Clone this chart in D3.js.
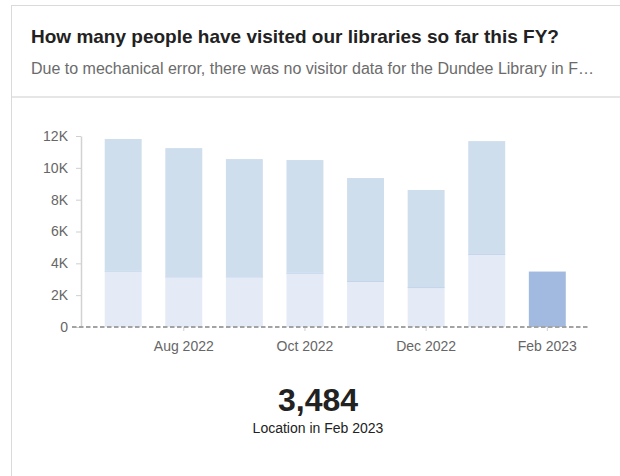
<!DOCTYPE html>
<html>
<head>
<meta charset="utf-8">
<script src="https://cdn.jsdelivr.net/npm/d3@7"></script>
<style>
  html, body { margin: 0; padding: 0; background: #fff; overflow: hidden; }
  svg { display: block; font-family: "Liberation Sans", Arial, Helvetica, sans-serif; }
</style>
</head>
<body>
<svg id="chart" width="620" height="476"></svg>
<script>
// Monthly visitor counts for the financial year so far
const months = ["Jul 2022", "Aug 2022", "Sep 2022", "Oct 2022", "Nov 2022", "Dec 2022", "Jan 2023", "Feb 2023"];
const locationVisits = [3540, 3180, 3180, 3410, 2890, 2510, 4590, 3484];
const dundeeVisits = [8270, 8060, 7370, 7080, 6470, 6100, 7090, null];
const yTicks = [0, 2000, 4000, 6000, 8000, 10000, 12000];
const xTickLabels = ["Aug 2022", "Oct 2022", "Dec 2022", "Feb 2023"];
const selectedMonth = "Feb 2023";

const titleText = "How many people have visited our libraries so far this FY?";
const subtitleText = "Due to mechanical error, there was no visitor data for the Dundee Library in February 2023.";

const svg = d3.select("#chart");

// card frame
svg.append("rect")
  .attr("x", 11.5).attr("y", 5.5)
  .attr("width", 700).attr("height", 600)
  .attr("fill", "#fff").attr("stroke", "#dadada");
svg.append("line")
  .attr("x1", 12).attr("x2", 620).attr("y1", 97).attr("y2", 97)
  .attr("stroke", "#e6e6e6").attr("stroke-width", 2);

// header
svg.append("text")
  .attr("x", 31).attr("y", 42.5)
  .attr("font-size", 19).attr("font-weight", "bold").attr("fill", "#222")
  .text(titleText);

const sub = svg.append("text")
  .attr("x", 31).attr("y", 73.5)
  .attr("font-size", 16).attr("fill", "#6b6b6b")
  .text(subtitleText);
// truncate long subtitle with an ellipsis
(function fit(node, maxW) {
  let s = subtitleText;
  if (node.getComputedTextLength() <= maxW) return;
  while (s.length > 0) {
    s = s.slice(0, -1);
    node.textContent = s.trimEnd() + "\u2026";
    if (node.getComputedTextLength() <= maxW) break;
  }
})(sub.node(), 570);

// scales
const x = d3.scaleBand()
  .domain(months)
  .range([92.9, 577.6])
  .paddingInner(0.39)
  .paddingOuter(0.195);

const y = d3.scaleLinear()
  .domain([0, 12000])
  .range([327, 136]);

const rows = months.map((m, i) => ({
  month: m,
  location: locationVisits[i],
  dundee: dundeeVisits[i] == null ? 0 : dundeeVisits[i]
}));
const stacked = d3.stack().keys(["location", "dundee"])(rows);

const fills = { location: "#e4ebf7", dundee: "#cfdeed" };
const highlight = "#a2badf";

// bars
const g = svg.append("g");
stacked.forEach(layer => {
  g.selectAll(null)
    .data(layer.filter(d => d[1] > d[0]))
    .join("rect")
    .attr("x", d => x(d.data.month))
    .attr("width", x.bandwidth())
    .attr("y", d => y(d[1]))
    .attr("height", d => y(d[0]) - y(d[1]))
    .attr("fill", d => d.data.month === selectedMonth ? highlight : fills[layer.key]);
});
// seam between the two stacked segments
g.selectAll(null)
  .data(rows.filter(d => d.dundee > 0))
  .join("line")
  .attr("x1", d => x(d.month))
  .attr("x2", d => x(d.month) + x.bandwidth())
  .attr("y1", d => y(d.location) + 0.5)
  .attr("y2", d => y(d.location) + 0.5)
  .attr("stroke", "#c3d4ec").attr("stroke-width", 1);

// y axis
const yAxis = svg.append("g")
  .attr("transform", "translate(81,0)")
  .call(d3.axisLeft(y)
    .tickValues(yTicks)
    .tickSize(5)
    .tickSizeOuter(0)
    .tickPadding(8)
    .tickFormat(d => d === 0 ? "0" : (d / 1000) + "K"));
yAxis.select(".domain").attr("stroke", "#d2d2d2").attr("stroke-width", 1.5);
yAxis.selectAll(".tick line").attr("stroke", "#cfcfcf");
yAxis.selectAll(".tick text")
  .attr("font-size", 14).attr("fill", "#666")
  .attr("font-family", "\"Liberation Sans\", Arial, sans-serif");

// x axis
const xAxis = svg.append("g")
  .attr("transform", "translate(0,327)")
  .call(d3.axisBottom(x)
    .tickValues(xTickLabels)
    .tickSize(4)
    .tickSizeOuter(0)
    .tickPadding(10));
xAxis.select(".domain").remove();
xAxis.selectAll(".tick line").attr("stroke", "#cfcfcf");
xAxis.selectAll(".tick text")
  .attr("font-size", 14).attr("fill", "#666")
  .attr("font-family", "\"Liberation Sans\", Arial, sans-serif");

// dashed baseline
svg.append("line")
  .attr("x1", 72).attr("x2", x.range()[1] + 12)
  .attr("y1", y(0)).attr("y2", y(0))
  .attr("stroke", "#a3a3a3").attr("stroke-width", 2)
  .attr("stroke-dasharray", "4.5,2.5");

// summary figure for the selected month
const selIdx = months.indexOf(selectedMonth);
svg.append("text")
  .attr("x", 318).attr("y", 411)
  .attr("text-anchor", "middle")
  .attr("font-size", 32).attr("font-weight", "bold").attr("fill", "#222")
  .text(d3.format(",")(locationVisits[selIdx]));
svg.append("text")
  .attr("x", 318).attr("y", 433)
  .attr("text-anchor", "middle")
  .attr("font-size", 14).attr("fill", "#222")
  .text("Location in " + selectedMonth);
</script>
</body>
</html>
